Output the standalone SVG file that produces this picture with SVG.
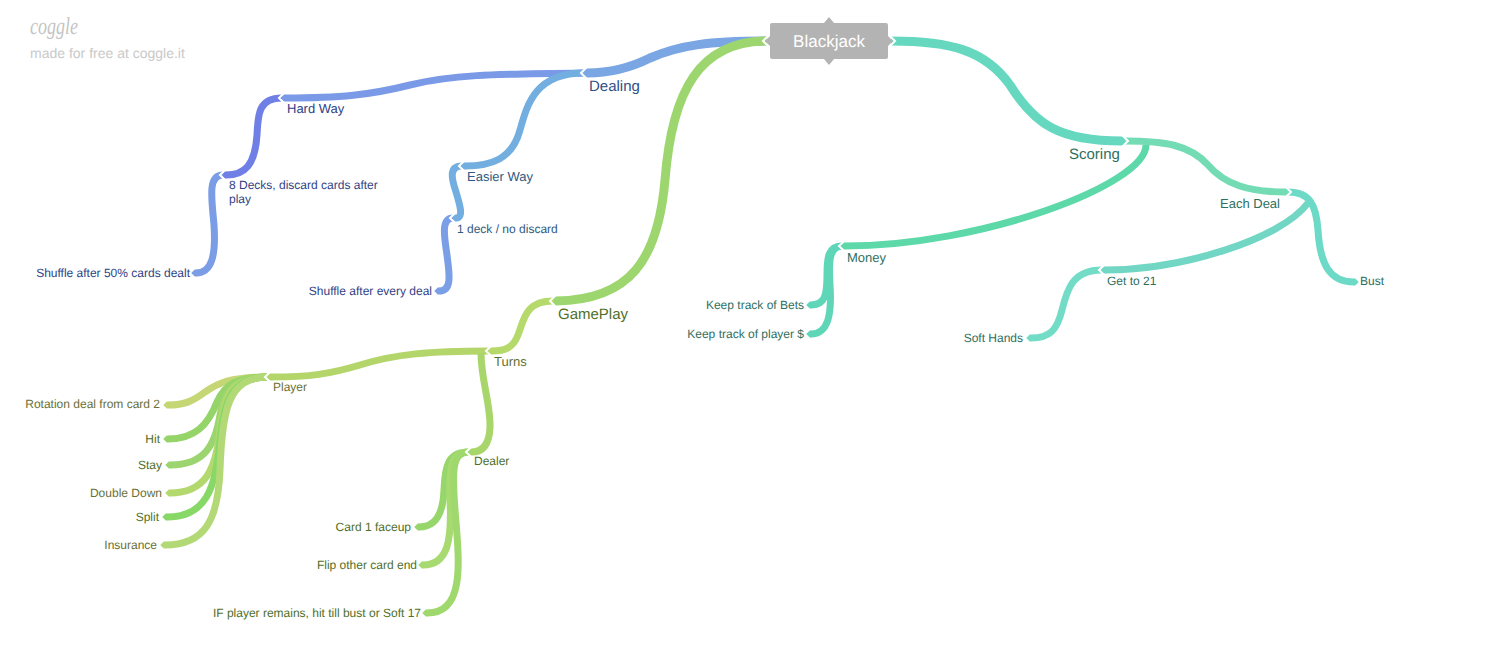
<svg xmlns="http://www.w3.org/2000/svg" width="1500" height="654" viewBox="0 0 1500 654">
<style>
text{font-family:"Liberation Sans",Arial,sans-serif;font-size:12px;text-rendering:geometricPrecision}
.c path{fill:none;stroke-width:7;stroke-linecap:butt;marker-end:url(#tip)}
.c path.m{stroke-width:9}
.n{fill:none;stroke:#fff;stroke-width:2}
.b{fill:#2f3f85}.t{fill:#2f6f60}.g{fill:#4f6f28}.o{fill:#6a7035}
</style>
<defs>
<marker id="tip" viewBox="0 0 1.4 2" refX="0.05" refY="1" markerWidth="0.7" markerHeight="1" orient="auto" markerUnits="strokeWidth" overflow="visible"><path d="M0 0H.4L1.4 1L.4 2H0Z" fill="context-stroke"/></marker>
</defs>
<rect width="1500" height="654" fill="#fff"/>
<g id="watermark">
<text x="30" y="34" textLength="48" lengthAdjust="spacingAndGlyphs" style="font-family:'Liberation Serif',serif;font-style:italic;font-size:24px" fill="#c4c4c4">coggle</text>
<text x="30" y="58" style="font-size:14px" fill="#c9c9c9">made for free at coggle.it</text>
</g>
<g id="connectors" class="c">
<path class="m" d="M767 41C710 41 680 45 650 58C630 68 610 73 587 73" stroke="#7aa6e4"/>
<path d="M584 73C490 74 450 75 410 85C370 95 340 98 285 98" stroke="#7a99e6"/>
<path d="M282 98C258 98 258 115 257 135C255 165 245 175 226 175" stroke="#6f7fe6"/>
<path d="M223 175C207 175 212 200 214 225C216 255 212 273 196 273" stroke="#7b9de6"/>
<path d="M584 73C535 73 527 105 520 130C512 160 490 166 465 166" stroke="#72aee0"/>
<path d="M462 166C448 166 452 180 456 192C460 205 464 218 456 218" stroke="#72aee0"/>
<path d="M453 218C440 218 445 240 447 255C449 272 453 291 439 291" stroke="#7a9fe6"/>
<path class="m" d="M767 41C700 41 672 90 665 180C658 260 630 300 556 301" stroke="#9dd66e"/>
<path d="M553 301C525 301 524 320 518 335C513 348 505 351 492 351" stroke="#b5d96a"/>
<path d="M489 351C430 351 395 354 360 365C330 374 310 377 271 377" stroke="#b3d56a"/>
<path d="M268 377C230 377 218 383 205 392C193 401 185 405 168 405" stroke="#c5d674"/>
<path d="M268 377C235 377 225 385 217 402C208 425 195 439 168 439" stroke="#95d468"/>
<path d="M268 377C232 377 225 390 220 415C215 445 205 465 170 465" stroke="#9cd570"/>
<path d="M268 377C230 377 224 395 220 430C216 470 205 493 170 493" stroke="#b2d86e"/>
<path d="M268 377C232 377 224 400 220 440C216 490 205 517 167 517" stroke="#88d868"/>
<path d="M268 377C228 377 222 410 220 470C218 520 205 545 165 545" stroke="#b3d977"/>
<path d="M481 353C481 380 491 405 490 428C489 445 482 452 472 452" stroke="#a8d66a"/>
<path d="M469 452C448 452 445 465 444 490C443 515 435 527 419 527" stroke="#96d66a"/>
<path d="M469 452C450 452 449 470 450 500C452 540 448 565 423 565" stroke="#a8da72"/>
<path d="M469 452C452 452 452 470 455 510C459 560 466 613 427 613" stroke="#9fd86c"/>
<path class="m" d="M891 41C950 41 985 50 1010 85C1035 125 1060 141 1122 141" stroke="#66d8c0"/>
<path d="M1125 141C1165 141 1190 145 1208 165C1225 185 1250 192 1285 192" stroke="#74dcb4"/>
<path d="M1146 145C1146 185 980 246 845 246" stroke="#5dd8a8"/>
<path d="M842 246C828 246 827 258 827 275C827 295 825 305 811 305" stroke="#5fd6b8"/>
<path d="M842 246C828 246 829 265 830 285C832 315 828 334 811 334" stroke="#5fd6b8"/>
<path d="M1288 192C1310 192 1316 205 1318 230C1320 265 1330 282 1354 282" stroke="#6cdac6"/>
<path d="M1308 203C1280 240 1180 270 1105 270" stroke="#72d6c4"/>
<path d="M1102 270C1072 270 1067 290 1062 310C1057 330 1050 338 1031 338" stroke="#72dcc6"/>
</g>
<g id="root">
<path class="n" d="M769 35L763 41L769 47M889 35L895 41L889 47"/>
<path d="M772 23H824L829 17L834 23H886Q888 23 888 25V36L893 41L888 46V57Q888 59 886 59H834L829 65L824 59H772Q770 59 770 57V46L765 41L770 36V25Q770 23 772 23Z" fill="#b3b3b3"/>
<text x="829" y="47" text-anchor="middle" fill="#fff" style="font-size:17px">Blackjack</text>
</g>
<g id="dealing"><path class="n" d="M587 67L581 73L587 79"/><text x="589" y="91" style="font-size:15px;fill:#2f4f85">Dealing</text></g>
<g id="hard-way"><path class="n" d="M285 92L279 98L285 104"/><text x="287" y="113" class="b" style="font-size:13px">Hard Way</text></g>
<g id="eight-decks"><path class="n" d="M226 169L220 175L226 181"/><text class="b"><tspan x="229" y="189">8 Decks, discard cards after</tspan><tspan x="229" y="203">play</tspan></text></g>
<g id="shuffle-50"><text x="190" y="277" text-anchor="end" class="b">Shuffle after 50% cards dealt</text></g>
<g id="easier-way"><path class="n" d="M465 160L459 166L465 172"/><text x="467" y="181" style="font-size:13px;fill:#2f5a80">Easier Way</text></g>
<g id="one-deck"><path class="n" d="M456 212L450 218L456 224"/><text x="457" y="233" style="fill:#2f5a80">1 deck / no discard</text></g>
<g id="shuffle-every"><text x="432" y="295" text-anchor="end" class="b">Shuffle after every deal</text></g>
<g id="gameplay"><path class="n" d="M556 295L550 301L556 307"/><text x="558" y="319" class="g" style="font-size:15px">GamePlay</text></g>
<g id="turns"><path class="n" d="M492 345L486 351L492 357"/><text x="494" y="366" style="font-size:13px;fill:#5f7030">Turns</text></g>
<g id="player"><path class="n" d="M271 371L265 377L271 383"/><text x="273" y="391" class="o">Player</text></g>
<g id="rotation"><text x="160" y="408" text-anchor="end" class="o">Rotation deal from card 2</text></g>
<g id="hit"><text x="160" y="443" text-anchor="end" class="g">Hit</text></g>
<g id="stay"><text x="162" y="469" text-anchor="end" class="g">Stay</text></g>
<g id="double-down"><text x="162" y="497" text-anchor="end" class="o">Double Down</text></g>
<g id="split"><text x="159" y="521" text-anchor="end" class="g">Split</text></g>
<g id="insurance"><text x="157" y="549" text-anchor="end" class="o">Insurance</text></g>
<g id="dealer"><path class="n" d="M472 446L466 452L472 458"/><text x="474" y="465" class="g">Dealer</text></g>
<g id="card-1"><text x="411" y="531" text-anchor="end" class="g">Card 1 faceup</text></g>
<g id="flip"><text x="417" y="569" text-anchor="end" class="g">Flip other card end</text></g>
<g id="if-player"><text x="421" y="617" text-anchor="end" class="g">IF player remains, hit till bust or Soft 17</text></g>
<g id="scoring"><path class="n" d="M1122 135L1128 141L1122 147"/><text x="1069" y="159" class="t" style="font-size:15px">Scoring</text></g>
<g id="each-deal"><path class="n" d="M1285 186L1291 192L1285 198"/><text x="1220" y="208" class="t" style="font-size:13px">Each Deal</text></g>
<g id="bust"><text x="1360" y="285" class="t">Bust</text></g>
<g id="get-21"><path class="n" d="M1105 264L1099 270L1105 276"/><text x="1107" y="285" class="t">Get to 21</text></g>
<g id="soft-hands"><text x="1023" y="342" text-anchor="end" class="t">Soft Hands</text></g>
<g id="money"><path class="n" d="M845 240L839 246L845 252"/><text x="847" y="262" class="t" style="font-size:13px">Money</text></g>
<g id="bets"><text x="804" y="309" text-anchor="end" class="t">Keep track of Bets</text></g>
<g id="player-money"><text x="804" y="338" text-anchor="end" class="t">Keep track of player $</text></g>
</svg>
